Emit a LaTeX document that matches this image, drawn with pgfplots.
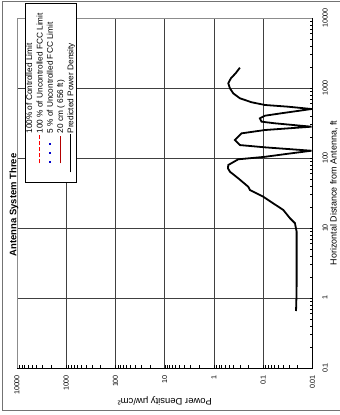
\documentclass[border=0pt]{standalone}
\usepackage{pgfplots}
\pgfplotsset{compat=1.18}
\usepackage{fontspec}
\setmainfont{Liberation Sans}
\pgfplotstableread{
dens dist
0.0216 0.652
0.0212 1.0
0.0210 1.53
0.0210 4.58
0.0210 8.85
0.0227 11.7
0.0287 13.8
0.0392 18.1
0.0627 22.5
0.100 28.0
0.186 34.9
0.202 38.9
0.322 51.3
0.475 63.7
0.520 71.0
0.514 79.4
0.322 95.8
0.0923 104
0.0287 116
0.0105 127
0.0923 142
0.298 153
0.376 181
0.275 225
0.0923 251
0.0105 280
0.0578 313
0.108 330
0.117 369
0.0923 402
0.0423 436
0.0105 501
0.0315 541
0.0923 572
0.172 625
0.298 713
0.407 839
0.475 991
0.514 1167
0.454 1376
0.364 1622
0.298 1950
}\curve
\newcommand\dashsample{\textcolor{red}{\rule{4bp}{1.4bp}\hspace{2bp}\rule{4bp}{1.4bp}\hspace{2bp}\rule{4bp}{1.4bp}\hspace{2bp}\rule{4bp}{1.4bp}\hspace{2bp}\rule{4bp}{1.4bp}}}
\newcommand\dotsample{\textcolor{blue!80!black}{\rule{2bp}{2bp}\hspace{7bp}\rule{2bp}{2bp}\hspace{7bp}\rule{2bp}{2bp}}}
\begin{document}
\begin{tikzpicture}
\useasboundingbox (-17bp,-47bp) rectangle (323bp,368bp);
\draw[black!55, line width=0.6pt] (-15bp,-42bp) rectangle (326bp,367bp);
\begin{axis}[
  at={(0,0)}, anchor=south west,
  scale only axis, width=295.5bp, height=350bp,
  xmode=log, ymode=log, x dir=reverse,
  xmin=0.01, xmax=10000, ymin=0.1, ymax=10000,
  xtick={0.01,0.1,1,10,100,1000,10000},
  xticklabels={0.01,0.1,1,10,100,1000,10000},
  ytick={0.1,1,10,100,1000,10000},
  yticklabels={0.1,1,10,100,1000,10000},
  yticklabel pos=right,
  xtick pos=left, ytick pos=right,
  tick align=inside,
  major tick length=0pt, minor tick length=3bp,
  grid=major, major grid style={black!75, line width=0.7pt},
  axis line style={black!45, line width=0.5pt},
  tick style={black, line width=0.5pt},
  ticklabel style={font=\fontsize{7.2}{8}\selectfont},
  xticklabel style={rotate=90, anchor=east},
  xticklabel shift=3.5bp,
  yticklabel style={rotate=90, anchor=north},
  yticklabel shift=6.5bp,
  xlabel={Power Density μw/cm²},
  ylabel={Horizontal Distance from Antenna, ft},
  every axis x label/.style={at={(rel axis cs:0.5,0)}, yshift=-33bp, rotate=180, anchor=center, font=\fontsize{9.5}{10}\selectfont},
  every axis y label/.style={at={(rel axis cs:1,0.5)}, xshift=21.5bp, rotate=90, anchor=center, font=\fontsize{9}{10}\selectfont},
  after end axis/.code={
    \draw[black, line width=0.7pt] (rel axis cs:0,0) -- (rel axis cs:1,0) -- (rel axis cs:1,1);
  },
]
\addplot[black, line width=1.8pt] table[x=dens, y=dist] {\curve};
\end{axis}
\node[rotate=90, font=\bfseries\fontsize{9.5}{10}\selectfont] at (-3bp,163bp) {Antenna System Three};
\node[rotate=90, anchor=north west, draw=black, line width=0.5pt, fill=white,
      inner xsep=2bp, inner ysep=1bp, minimum width=179bp, align=left,
      font=\fontsize{8.3}{10.3}\selectfont] at (8bp,185bp) {%
  \makebox[40bp][l]{}100\% of Controlled Limit\\
  \makebox[40bp][l]{\hspace{10bp}\raisebox{2.3bp}{\dashsample}}100 \% of Uncontrolled FCC Limit\\
  \makebox[40bp][l]{\hspace{10bp}\raisebox{2bp}{\dotsample}}5 \% of Uncontrolled FCC Limit\\
  \makebox[40bp][l]{\hspace{10bp}\raisebox{2.4bp}{\textcolor{red!70!black}{\rule{27bp}{1.1bp}}}}20 cm ( 656 ft)\\
  \makebox[40bp][l]{\hspace{1bp}\raisebox{2.3bp}{\rule{38bp}{1.3bp}}}Predicted Power Density};
\end{tikzpicture}
\end{document}
